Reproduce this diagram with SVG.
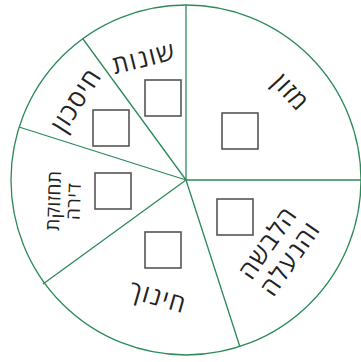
<svg xmlns="http://www.w3.org/2000/svg" width="361" height="362" viewBox="0 0 361 362">
<style>
.edge{stroke:#2b8a57;stroke-width:1.3;fill:none}
.box{fill:#fff;stroke:#555;stroke-width:1.6}
.lbl{font-family:"Open Sans","DejaVu Sans","Liberation Sans",sans-serif;font-size:25px;fill:#222;text-anchor:middle;letter-spacing:1.5px}
</style>
<rect width="361" height="362" fill="#fff"/>
<g id="connectors">
<circle class="edge" cx="186" cy="180" r="175"/>
<line class="edge" x1="186" y1="180" x2="186" y2="5"/>
<line class="edge" x1="186" y1="180" x2="361" y2="180"/>
<line class="edge" x1="186" y1="180" x2="83" y2="39"/>
<line class="edge" x1="186" y1="180" x2="19" y2="127"/>
<line class="edge" x1="186" y1="180" x2="43" y2="284"/>
<line class="edge" x1="186" y1="180" x2="240" y2="347"/>
</g>
<g id="mazon">
<rect class="box" x="222" y="113" width="36" height="36"/>
<text class="lbl" transform="translate(291,92) rotate(47)" dy="0.35em">מזון</text>
</g>
<g id="shonot">
<rect class="box" x="145" y="80" width="36" height="36"/>
<text class="lbl" transform="translate(144,58) rotate(-14)" dy="0.35em">שונות</text>
</g>
<g id="chisachon">
<rect class="box" x="93" y="110" width="36" height="36"/>
<text class="lbl" transform="translate(76,100) rotate(-57)" dy="0.35em">חיסכון</text>
</g>
<g id="tachzuka">
<rect class="box" x="95" y="173" width="36" height="36"/>
<text class="lbl" transform="translate(63,201) rotate(-88)" style="font-size:19px;letter-spacing:0.5px"><tspan x="0" dy="-0.15em">תחזוקת</tspan><tspan x="0" dy="1.05em">דירה</tspan></text>
</g>
<g id="chinuch">
<rect class="box" x="145" y="232" width="36" height="36"/>
<text class="lbl" transform="translate(158,297) rotate(16)" dy="0.35em">חינוך</text>
</g>
<g id="halbasha">
<rect class="box" x="217" y="199" width="36" height="36"/>
<text class="lbl" transform="translate(281,252) rotate(-55)"><tspan x="0" dy="-0.3em">הלבשה</tspan><tspan x="0" dy="1.1em">והנעלה</tspan></text>
</g>
</svg>
